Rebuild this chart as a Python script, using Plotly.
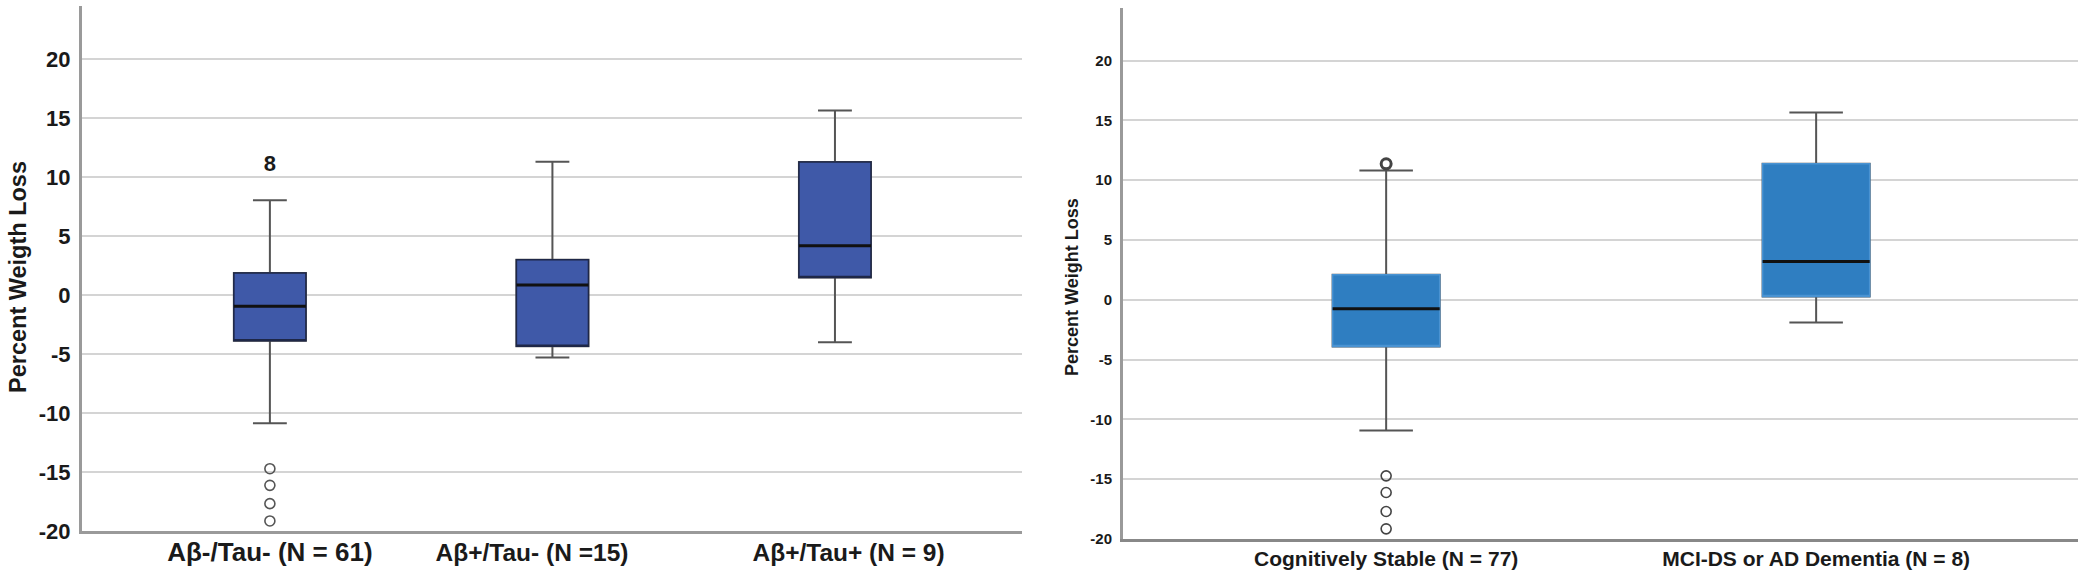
import plotly.graph_objects as go

# ---------------- data: left panel ----------------
cats_left = ["Aβ-/Tau- (N = 61)", "Aβ+/Tau- (N =15)", "Aβ+/Tau+ (N = 9)"]
lower_left = [-10.86, -5.3, -4.01]
q1_left = [-3.87, -4.35, 1.49]
median_left = [-0.96, 0.85, 4.17]
q3_left = [1.86, 2.99, 11.28]
upper_left = [8.04, 11.3, 15.65]
outlier_cat_left = "Aβ-/Tau- (N = 61)"
outliers_left = [-14.72, -16.13, -17.68, -19.15]
case_label_left = "8"
case_label_value_left = 11.0

# ---------------- data: right panel ----------------
cats_right = ["Cognitively Stable (N = 77)", "MCI-DS or AD Dementia (N = 8)"]
lower_right = [-10.93, -1.9]
q1_right = [-3.9, 0.28]
median_right = [-0.75, 3.2]
q3_right = [2.09, 11.37]
upper_right = [10.81, 15.66]
outlier_cat_right = "Cognitively Stable (N = 77)"
outliers_right = [11.37, -14.72, -16.11, -17.7, -19.15]
outlier_line_right = [3, 1.6, 1.6, 1.6, 1.6]

y_ticks = [-20, -15, -10, -5, 0, 5, 10, 15, 20]
y_tick_labels = ["-20", "-15", "-10", "-5", "0", "5", "10", "15", "20"]

FONT = "Arial, 'Liberation Sans', sans-serif"
WHISKER = "#555555"
GRID = "#d4d4d4"
AXIS = "#9a9a9a"
TXT = "#1a1a1a"

fig = go.Figure()


def add_boxes(cats, lo, q1, med, q3, hi, fill, border, bw, ww, xa, ya):
    # whiskers (full extent)
    fig.add_trace(go.Box(
        x=cats, q1=q1, median=med, q3=q3, lowerfence=lo, upperfence=hi,
        width=bw, whiskerwidth=ww, fillcolor=fill,
        line=dict(color=WHISKER, width=2), boxpoints=False,
        xaxis=xa, yaxis=ya, showlegend=False, hoverinfo="skip"))
    # box body
    fig.add_trace(go.Box(
        x=cats, q1=q1, median=q1, q3=q3, lowerfence=q1, upperfence=q3,
        width=bw, whiskerwidth=0, fillcolor=fill,
        line=dict(color=border, width=1.5), boxpoints=False,
        xaxis=xa, yaxis=ya, showlegend=False, hoverinfo="skip"))
    # median line
    fig.add_trace(go.Box(
        x=cats, q1=med, median=med, q3=med, lowerfence=med, upperfence=med,
        width=bw, whiskerwidth=0, fillcolor="rgba(0,0,0,0)",
        line=dict(color="#111111", width=3), boxpoints=False,
        xaxis=xa, yaxis=ya, showlegend=False, hoverinfo="skip"))


add_boxes(cats_left, lower_left, q1_left, median_left, q3_left, upper_left,
          "#3f59a8", "#1e2747", 0.255, 0.47, "x", "y")
add_boxes(cats_right, lower_right, q1_right, median_right, q3_right, upper_right,
          "#2f7ec1", "#4a93d2", 0.249, 0.5, "x2", "y2")

# outliers
fig.add_trace(go.Scatter(
    x=[outlier_cat_left] * len(outliers_left), y=outliers_left, mode="markers",
    marker=dict(symbol="circle-open", size=10, color="#555555", line=dict(width=1.6)),
    xaxis="x", yaxis="y", showlegend=False, hoverinfo="skip"))
fig.add_trace(go.Scatter(
    x=[outlier_cat_left], y=[case_label_value_left], mode="text",
    text=[case_label_left], textposition="middle center",
    textfont=dict(family=FONT, size=22, color=TXT, weight="bold"),
    xaxis="x", yaxis="y", showlegend=False, hoverinfo="skip"))

fig.add_trace(go.Scatter(
    x=[outlier_cat_right] * len(outliers_right), y=outliers_right, mode="markers",
    marker=dict(symbol="circle-open", size=10, color="#444444",
                line=dict(width=outlier_line_right)),
    xaxis="x2", yaxis="y2", showlegend=False, hoverinfo="skip"))

W, H = 2085, 576


def px_x(p):
    return p / W


def px_y(p):
    return 1 - p / H


yaxis_common = dict(
    tickvals=y_ticks, ticktext=y_tick_labels,
    showgrid=True, gridcolor=GRID, gridwidth=2,
    zeroline=False, showline=True, linecolor=AXIS, linewidth=3,
    ticks="", fixedrange=True, automargin=False,
)

NB = "&nbsp;"
left_ticktext = [
    '<span style="font-size:26px">' + cats_left[0] + '</span>',
    cats_left[1] + NB * 6,
    NB * 4 + cats_left[2],
]

fig.update_layout(
    width=W, height=H,
    margin=dict(l=0, r=0, t=0, b=0),
    paper_bgcolor="white", plot_bgcolor="white",
    boxmode="overlay",
    font=dict(family=FONT, color=TXT),
    xaxis=dict(
        domain=[px_x(82), px_x(1022)], anchor="y",
        type="category", categoryorder="array", categoryarray=cats_left,
        tickvals=cats_left, ticktext=left_ticktext,
        range=[-0.665, 2.662], showgrid=False, zeroline=False,
        showline=True, linecolor=AXIS, linewidth=3, ticks="",
        tickfont=dict(size=24.5, family=FONT, color=TXT, weight="bold"),
        ticklabelstandoff=-2, automargin=False,
    ),
    yaxis=dict(
        domain=[px_y(531), px_y(6)], anchor="x", range=[-20, 24.5],
        tickfont=dict(size=22, family=FONT, color=TXT, weight="bold"),
        ticklabelstandoff=4,
        **yaxis_common,
    ),
    xaxis2=dict(
        domain=[px_x(1123), px_x(2078)], anchor="y2",
        type="category", categoryorder="array", categoryarray=cats_right,
        range=[-0.612, 1.609], showgrid=False, zeroline=False,
        showline=True, linecolor="#888888", linewidth=3, ticks="",
        tickfont=dict(size=21, family=FONT, color=TXT, weight="bold"),
        ticklabelstandoff=-1, automargin=False,
    ),
    yaxis2=dict(
        domain=[px_y(539), px_y(8)], anchor="x2", range=[-20, 24.4],
        tickfont=dict(size=15, family=FONT, color=TXT, weight="bold"),
        ticklabelstandoff=5,
        **yaxis_common,
    ),
    annotations=[
        dict(text="<b>Percent Weigth Loss</b>", xref="paper", yref="paper",
             x=px_x(18), y=px_y(277), xanchor="center", yanchor="middle",
             textangle=-90, showarrow=False,
             font=dict(size=23.5, family=FONT, color=TXT)),
        dict(text="<b>Percent Weight Loss</b>", xref="paper", yref="paper",
             x=px_x(1072), y=px_y(287), xanchor="center", yanchor="middle",
             textangle=-90, showarrow=False,
             font=dict(size=18, family=FONT, color=TXT)),
    ],
)

fig.write_html("out.html", config={"displayModeBar": False},
               post_script="document.body.style.margin='0px';")
